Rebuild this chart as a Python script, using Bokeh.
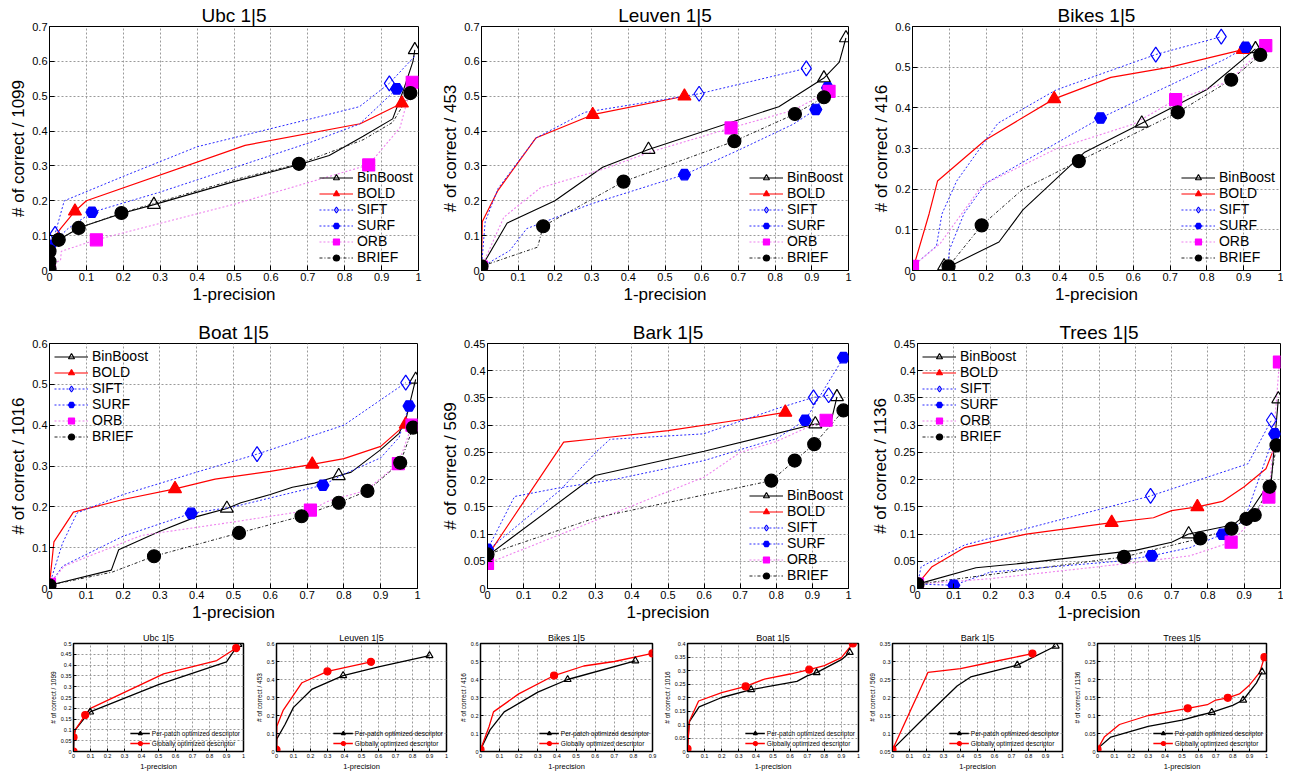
from bokeh.plotting import figure
from bokeh.layouts import row, column
from bokeh.models import Range1d, FixedTicker, CustomJSTickFormatter, Legend, LegendItem
from bokeh.embed import file_html
from bokeh.resources import INLINE

FONT = "Liberation Sans"

SERIES = ["BinBoost", "BOLD", "SIFT", "SURF", "ORB", "BRIEF"]
SMALL_SERIES = ["Per-patch optimized descriptor", "Globally optimized descriptor"]

X_TICKS = [0, 0.1, 0.2, 0.3, 0.4, 0.5, 0.6, 0.7, 0.8, 0.9, 1.0]
X_TICKS_09 = [0, 0.1, 0.2, 0.3, 0.4, 0.5, 0.6, 0.7, 0.8, 0.9]
Y_TICKS_07 = [0, 0.1, 0.2, 0.3, 0.4, 0.5, 0.6, 0.7]
Y_TICKS_06 = [0, 0.1, 0.2, 0.3, 0.4, 0.5, 0.6]
Y_TICKS_045 = [0, 0.05, 0.1, 0.15, 0.2, 0.25, 0.3, 0.35, 0.4, 0.45]
S_Y_UBC = [0, 0.05, 0.1, 0.15, 0.2, 0.25, 0.3, 0.35, 0.4, 0.45, 0.5]
S_Y_LEUVEN = [0, 0.1, 0.2, 0.3, 0.4, 0.5, 0.6]
S_Y_BIKES = [0, 0.1, 0.2, 0.3, 0.4, 0.5, 0.6]
S_Y_BOAT = [0, 0.05, 0.1, 0.15, 0.2, 0.25, 0.3, 0.35, 0.4]
S_Y_BARK = [0.05, 0.1, 0.15, 0.2, 0.25, 0.3, 0.35]
S_Y_TREES = [0, 0.05, 0.1, 0.15, 0.2, 0.25, 0.3]

# ---------------- Ubc ----------------
ubc_binboost_x = [0, 0.003, 0.02, 0.06, 0.1, 0.2, 0.283, 0.5, 0.68, 0.758, 0.85, 0.93, 0.96, 0.985, 0.99]
ubc_binboost_y = [0, 0.06, 0.085, 0.11, 0.13, 0.165, 0.189, 0.255, 0.305, 0.33, 0.385, 0.435, 0.52, 0.6, 0.633]
ubc_binboost_m = [6, 14]
ubc_bold_x = [0, 0.003, 0.03, 0.069, 0.1, 0.53, 0.842, 0.955]
ubc_bold_y = [0, 0.08, 0.12, 0.17, 0.2, 0.359, 0.421, 0.48]
ubc_bold_m = [3, 7]
ubc_sift_x = [0, 0.003, 0.015, 0.04, 0.2, 0.4, 0.7, 0.84, 0.921, 0.99]
ubc_sift_y = [0, 0.09, 0.105, 0.2, 0.27, 0.355, 0.433, 0.47, 0.537, 0.615]
ubc_sift_m = [2, 8]
ubc_surf_x = [0, 0.002, 0.05, 0.115, 0.3, 0.5, 0.7, 0.84, 0.941]
ubc_surf_y = [0, 0.072, 0.12, 0.167, 0.225, 0.295, 0.365, 0.42, 0.521]
ubc_surf_m = [1, 3, 8]
ubc_orb_x = [0, 0.005, 0.03, 0.032, 0.06, 0.127, 0.5, 0.865, 0.95, 0.983]
ubc_orb_y = [0, 0.015, 0.03, 0.055, 0.065, 0.088, 0.19, 0.303, 0.41, 0.54]
ubc_orb_m = [0, 5, 7, 9]
ubc_brief_x = [0, 0, 0, 0.025, 0.079, 0.195, 0.5, 0.676, 0.85, 0.93, 0.978]
ubc_brief_y = [0.005, 0.026, 0.055, 0.088, 0.122, 0.165, 0.26, 0.306, 0.375, 0.425, 0.509]
ubc_brief_m = [0, 1, 2, 3, 4, 5, 7, 10]

# ---------------- Leuven ----------------
leuven_binboost_x = [0, 0.07, 0.2, 0.33, 0.455, 0.81, 0.933, 0.975, 0.993]
leuven_binboost_y = [0.01, 0.136, 0.2, 0.296, 0.347, 0.47, 0.552, 0.598, 0.667]
leuven_binboost_m = [4, 6, 8]
leuven_bold_x = [0, 0.002, 0.045, 0.148, 0.303, 0.553]
leuven_bold_y = [0.01, 0.14, 0.23, 0.38, 0.447, 0.5]
leuven_bold_m = [4, 5]
leuven_sift_x = [0, 0.01, 0.045, 0.148, 0.282, 0.553, 0.593, 0.885]
leuven_sift_y = [0.01, 0.14, 0.235, 0.38, 0.454, 0.5, 0.507, 0.58]
leuven_sift_m = [6, 7]
leuven_surf_x = [0, 0.077, 0.123, 0.296, 0.553, 0.7, 0.85, 0.911, 0.943]
leuven_surf_y = [0.01, 0.057, 0.12, 0.19, 0.275, 0.345, 0.42, 0.462, 0.524]
leuven_surf_m = [4, 7, 8]
leuven_orb_x = [0, 0.061, 0.16, 0.33, 0.46, 0.68, 0.85, 0.947]
leuven_orb_y = [0.01, 0.153, 0.237, 0.29, 0.34, 0.409, 0.46, 0.514]
leuven_orb_m = [0, 5, 7]
leuven_brief_x = [0, 0.153, 0.168, 0.387, 0.689, 0.854, 0.933]
leuven_brief_y = [0.012, 0.067, 0.127, 0.255, 0.371, 0.449, 0.497]
leuven_brief_m = [0, 2, 3, 4, 5, 6]

# ---------------- Bikes ----------------
bikes_binboost_x = [0.086, 0.1, 0.235, 0.3, 0.468, 0.623, 0.8, 0.932]
bikes_binboost_y = [0.011, 0.01, 0.07, 0.149, 0.291, 0.362, 0.445, 0.545]
bikes_binboost_m = [0, 5, 7]
bikes_bold_x = [0, 0.045, 0.068, 0.198, 0.385, 0.539, 0.7, 0.898]
bikes_bold_y = [0, 0.139, 0.22, 0.321, 0.422, 0.475, 0.5, 0.543]
bikes_bold_m = [4, 7]
bikes_sift_x = [0, 0.065, 0.08, 0.12, 0.232, 0.39, 0.661, 0.839]
bikes_sift_y = [0.01, 0.06, 0.139, 0.22, 0.362, 0.444, 0.531, 0.575]
bikes_sift_m = [6, 7]
bikes_surf_x = [0.095, 0.1, 0.14, 0.2, 0.511, 0.85, 0.905]
bikes_surf_y = [0.0, 0.05, 0.14, 0.215, 0.375, 0.52, 0.549]
bikes_surf_m = [4, 6]
bikes_orb_x = [0, 0.075, 0.19, 0.39, 0.6, 0.715, 0.86, 0.96]
bikes_orb_y = [0.01, 0.066, 0.21, 0.299, 0.36, 0.42, 0.465, 0.553]
bikes_orb_m = [0, 5, 7]
bikes_brief_x = [0.098, 0.188, 0.3, 0.452, 0.721, 0.866, 0.945]
bikes_brief_y = [0.01, 0.111, 0.2, 0.269, 0.389, 0.469, 0.53]
bikes_brief_m = [0, 1, 3, 4, 5, 6]

# ---------------- Boat ----------------
boat_binboost_x = [0, 0.168, 0.188, 0.3, 0.4, 0.482, 0.52, 0.6, 0.66, 0.72, 0.786, 0.82, 0.9, 0.95, 0.97, 0.995]
boat_binboost_y = [0.008, 0.045, 0.095, 0.14, 0.176, 0.196, 0.21, 0.23, 0.248, 0.258, 0.276, 0.285, 0.34, 0.38, 0.42, 0.512]
boat_binboost_m = [5, 10, 15]
boat_bold_x = [0, 0.012, 0.065, 0.2, 0.341, 0.45, 0.6, 0.714, 0.8, 0.9, 0.968]
boat_bold_y = [0.01, 0.114, 0.187, 0.218, 0.244, 0.268, 0.287, 0.304, 0.318, 0.348, 0.402]
boat_bold_m = [4, 7, 10]
boat_sift_x = [0, 0.035, 0.075, 0.2, 0.4, 0.564, 0.8, 0.968]
boat_sift_y = [0.01, 0.11, 0.185, 0.23, 0.285, 0.329, 0.4, 0.504]
boat_sift_m = [5, 7]
boat_surf_x = [0, 0.036, 0.2, 0.385, 0.5, 0.743, 0.8, 0.9, 0.95, 0.977]
boat_surf_y = [0.01, 0.055, 0.128, 0.184, 0.2, 0.253, 0.28, 0.32, 0.37, 0.447]
boat_surf_m = [3, 5, 9]
boat_orb_x = [0, 0.04, 0.25, 0.5, 0.709, 0.76, 0.86, 0.948, 0.985]
boat_orb_y = [0.01, 0.055, 0.13, 0.163, 0.192, 0.215, 0.24, 0.306, 0.4]
boat_orb_m = [0, 4, 7, 8]
boat_brief_x = [0, 0.17, 0.284, 0.515, 0.685, 0.786, 0.864, 0.953, 0.988]
boat_brief_y = [0.008, 0.04, 0.079, 0.136, 0.177, 0.21, 0.239, 0.308, 0.394]
boat_brief_m = [0, 2, 3, 4, 5, 6, 7, 8]

# ---------------- Bark ----------------
bark_binboost_x = [0, 0.298, 0.6, 0.908, 0.95, 0.968]
bark_binboost_y = [0.06, 0.2075, 0.252, 0.302, 0.302, 0.352]
bark_binboost_m = [3, 5]
bark_bold_x = [0, 0.211, 0.3, 0.5, 0.7, 0.825]
bark_bold_y = [0.06, 0.269, 0.275, 0.29, 0.31, 0.3235]
bark_bold_m = [5]
bark_sift_x = [0, 0.2, 0.3, 0.339, 0.598, 0.8, 0.903, 0.945]
bark_sift_y = [0.07, 0.18, 0.25, 0.274, 0.284, 0.33, 0.351, 0.355]
bark_sift_m = [6, 7]
bark_surf_x = [0, 0.075, 0.2, 0.35, 0.6, 0.8, 0.88, 0.986]
bark_surf_y = [0.072, 0.169, 0.185, 0.2, 0.235, 0.275, 0.309, 0.424]
bark_surf_m = [0, 6, 7]
bark_orb_x = [0, 0.6, 0.7, 0.8, 0.9, 0.938]
bark_orb_y = [0.046, 0.2045, 0.25, 0.27, 0.3, 0.309]
bark_orb_m = [0, 5]
bark_brief_x = [0, 0.3, 0.786, 0.851, 0.905, 0.986]
bark_brief_y = [0.0626, 0.13, 0.198, 0.235, 0.265, 0.327]
bark_brief_m = [0, 2, 3, 4, 5]

# ---------------- Trees ----------------
trees_binboost_x = [0, 0.161, 0.3, 0.6, 0.7, 0.747, 0.87, 0.92, 0.975, 0.994]
trees_binboost_y = [0.008, 0.038, 0.047, 0.07, 0.085, 0.1, 0.117, 0.145, 0.2, 0.348]
trees_binboost_m = [5, 9]
trees_bold_x = [0, 0.04, 0.129, 0.3, 0.535, 0.65, 0.7, 0.771, 0.84, 0.9, 0.96, 0.985]
trees_bold_y = [0.008, 0.04, 0.075, 0.1, 0.121, 0.13, 0.143, 0.15, 0.16, 0.187, 0.22, 0.262]
trees_bold_m = [4, 7]
trees_sift_x = [0, 0.01, 0.13, 0.3, 0.642, 0.91, 0.975]
trees_sift_y = [0.008, 0.04, 0.08, 0.11, 0.17, 0.229, 0.309]
trees_sift_m = [4, 6]
trees_surf_x = [0, 0.1, 0.2, 0.55, 0.645, 0.75, 0.84, 0.9, 0.984]
trees_surf_y = [0.008, 0.006, 0.03, 0.05, 0.06, 0.075, 0.0995, 0.125, 0.284]
trees_surf_m = [1, 4, 6, 8]
trees_orb_x = [0, 0.2, 0.5, 0.75, 0.864, 0.9, 0.968, 0.997]
trees_orb_y = [0.008, 0.018, 0.04, 0.06, 0.085, 0.11, 0.168, 0.416]
trees_orb_m = [0, 4, 6, 7]
trees_brief_x = [0, 0.569, 0.779, 0.865, 0.906, 0.929, 0.97, 0.989]
trees_brief_y = [0.008, 0.058, 0.092, 0.11, 0.128, 0.135, 0.187, 0.263]
trees_brief_m = [0, 1, 2, 3, 4, 5, 6, 7]

# ---------------- small panels ----------------
s_ubc_pp_x = [0, 0.002, 0.01, 0.06, 0.098, 0.5, 0.9, 0.97]
s_ubc_pp_y = [0, 0.06, 0.1, 0.15, 0.183, 0.31, 0.415, 0.496]
s_ubc_pp_m = [4, 7]
s_ubc_gl_x = [0, 0, 0.01, 0.069, 0.1, 0.53, 0.843, 0.957]
s_ubc_gl_y = [0, 0.066, 0.1, 0.169, 0.2, 0.359, 0.421, 0.479]
s_ubc_gl_m = [0, 1, 3, 7]

s_leuven_pp_x = [0, 0.002, 0.05, 0.1, 0.21, 0.392, 0.6, 0.9]
s_leuven_pp_y = [0.01, 0.07, 0.15, 0.245, 0.347, 0.422, 0.47, 0.533]
s_leuven_pp_m = [5, 7]
s_leuven_gl_x = [0, 0.002, 0.04, 0.15, 0.3, 0.556]
s_leuven_gl_y = [0.01, 0.14, 0.23, 0.382, 0.445, 0.498]
s_leuven_gl_m = [0, 4, 5]

s_bikes_pp_x = [0, 0.05, 0.124, 0.3, 0.456, 0.81]
s_bikes_pp_y = [0.01, 0.12, 0.22, 0.33, 0.4, 0.504]
s_bikes_pp_m = [4, 5]
s_bikes_gl_x = [0, 0.045, 0.068, 0.2, 0.385, 0.54, 0.7, 0.9]
s_bikes_gl_y = [0.01, 0.139, 0.22, 0.32, 0.422, 0.475, 0.5, 0.545]
s_bikes_gl_m = [0, 4, 7]

s_boat_pp_x = [0, 0.01, 0.068, 0.2, 0.372, 0.64, 0.7, 0.755, 0.9, 0.949]
s_boat_pp_y = [0.01, 0.11, 0.165, 0.2, 0.229, 0.26, 0.28, 0.292, 0.34, 0.367]
s_boat_pp_m = [4, 7, 9]
s_boat_gl_x = [0, 0.012, 0.065, 0.2, 0.34, 0.45, 0.6, 0.712, 0.8, 0.9, 0.967]
s_boat_gl_y = [0.01, 0.114, 0.187, 0.218, 0.241, 0.268, 0.287, 0.303, 0.318, 0.348, 0.4]
s_boat_gl_m = [0, 4, 7, 10]

s_bark_pp_x = [0, 0.2, 0.38, 0.46, 0.734, 0.96]
s_bark_pp_y = [0.056, 0.15, 0.232, 0.257, 0.29, 0.343]
s_bark_pp_m = [4, 5]
s_bark_gl_x = [0, 0.209, 0.4, 0.6, 0.823]
s_bark_gl_y = [0.055, 0.27, 0.28, 0.3, 0.322]
s_bark_gl_m = [0, 4]

s_trees_pp_x = [0, 0.079, 0.3, 0.5, 0.6, 0.676, 0.8, 0.862, 0.94, 0.974]
s_trees_pp_y = [0.008, 0.04, 0.07, 0.087, 0.1, 0.109, 0.128, 0.143, 0.19, 0.221]
s_trees_pp_m = [5, 7, 9]
s_trees_gl_x = [0, 0.04, 0.13, 0.3, 0.534, 0.65, 0.7, 0.771, 0.84, 0.9, 0.96, 0.988]
s_trees_gl_y = [0.006, 0.04, 0.075, 0.1, 0.12, 0.13, 0.143, 0.149, 0.16, 0.185, 0.22, 0.262]
s_trees_gl_m = [0, 4, 7, 11]

STYLE = {
    "BinBoost": dict(lc="black", lw=1.1, dash="solid", marker="triangle", size=13, fc="white", fa=0.0, mc="black"),
    "BOLD": dict(lc="#ff0000", lw=1.2, dash="solid", marker="triangle", size=13, fc="#ff0000", fa=1.0, mc="#ff0000"),
    "SIFT": dict(lc="#2a2aff", lw=1.0, dash="2 2", marker="diamond", size=15, fc="white", fa=0.0, mc="#0000ff"),
    "SURF": dict(lc="#2a2aff", lw=1.0, dash="2 2", marker="hex", size=12, fc="#0000ff", fa=1.0, mc="#0000ff"),
    "ORB": dict(lc="#ee82ee", lw=1.1, dash="2 2", marker="square", size=12, fc="#ff00ff", fa=1.0, mc="#ff00ff"),
    "BRIEF": dict(lc="#222222", lw=1.0, dash="3 2 1 2", marker="circle", size=13, fc="black", fa=1.0, mc="black"),
}
SMALL_STYLE = {
    "Per-patch optimized descriptor": dict(lc="black", lw=1.3, dash="solid", marker="triangle", size=7, fc="white", fa=0.0, mc="black"),
    "Globally optimized descriptor": dict(lc="#ff0000", lw=1.3, dash="solid", marker="circle", size=7, fc="#ff0000", fa=1.0, mc="#ff0000"),
}

BIG = [
    dict(title="Ubc 1|5", ylabel="# of correct / 1099", yticks=Y_TICKS_07, loc="bottom_right",
         data=[(ubc_binboost_x, ubc_binboost_y, ubc_binboost_m), (ubc_bold_x, ubc_bold_y, ubc_bold_m),
               (ubc_sift_x, ubc_sift_y, ubc_sift_m), (ubc_surf_x, ubc_surf_y, ubc_surf_m),
               (ubc_orb_x, ubc_orb_y, ubc_orb_m), (ubc_brief_x, ubc_brief_y, ubc_brief_m)]),
    dict(title="Leuven 1|5", ylabel="# of correct / 453", yticks=Y_TICKS_07, loc="bottom_right",
         data=[(leuven_binboost_x, leuven_binboost_y, leuven_binboost_m), (leuven_bold_x, leuven_bold_y, leuven_bold_m),
               (leuven_sift_x, leuven_sift_y, leuven_sift_m), (leuven_surf_x, leuven_surf_y, leuven_surf_m),
               (leuven_orb_x, leuven_orb_y, leuven_orb_m), (leuven_brief_x, leuven_brief_y, leuven_brief_m)]),
    dict(title="Bikes 1|5", ylabel="# of correct / 416", yticks=Y_TICKS_06, loc="bottom_right",
         data=[(bikes_binboost_x, bikes_binboost_y, bikes_binboost_m), (bikes_bold_x, bikes_bold_y, bikes_bold_m),
               (bikes_sift_x, bikes_sift_y, bikes_sift_m), (bikes_surf_x, bikes_surf_y, bikes_surf_m),
               (bikes_orb_x, bikes_orb_y, bikes_orb_m), (bikes_brief_x, bikes_brief_y, bikes_brief_m)]),
    dict(title="Boat 1|5", ylabel="# of correct / 1016", yticks=Y_TICKS_06, loc="top_left",
         data=[(boat_binboost_x, boat_binboost_y, boat_binboost_m), (boat_bold_x, boat_bold_y, boat_bold_m),
               (boat_sift_x, boat_sift_y, boat_sift_m), (boat_surf_x, boat_surf_y, boat_surf_m),
               (boat_orb_x, boat_orb_y, boat_orb_m), (boat_brief_x, boat_brief_y, boat_brief_m)]),
    dict(title="Bark 1|5", ylabel="# of correct / 569", yticks=Y_TICKS_045, loc="bottom_right",
         data=[(bark_binboost_x, bark_binboost_y, bark_binboost_m), (bark_bold_x, bark_bold_y, bark_bold_m),
               (bark_sift_x, bark_sift_y, bark_sift_m), (bark_surf_x, bark_surf_y, bark_surf_m),
               (bark_orb_x, bark_orb_y, bark_orb_m), (bark_brief_x, bark_brief_y, bark_brief_m)]),
    dict(title="Trees 1|5", ylabel="# of correct / 1136", yticks=Y_TICKS_045, loc="top_left",
         data=[(trees_binboost_x, trees_binboost_y, trees_binboost_m), (trees_bold_x, trees_bold_y, trees_bold_m),
               (trees_sift_x, trees_sift_y, trees_sift_m), (trees_surf_x, trees_surf_y, trees_surf_m),
               (trees_orb_x, trees_orb_y, trees_orb_m), (trees_brief_x, trees_brief_y, trees_brief_m)]),
]

SMALL = [
    dict(title="Ubc 1|5", ylabel="# of correct / 1099", xticks=X_TICKS, yticks=S_Y_UBC,
         data=[(s_ubc_pp_x, s_ubc_pp_y, s_ubc_pp_m), (s_ubc_gl_x, s_ubc_gl_y, s_ubc_gl_m)]),
    dict(title="Leuven 1|5", ylabel="# of correct / 453", xticks=X_TICKS, yticks=S_Y_LEUVEN,
         data=[(s_leuven_pp_x, s_leuven_pp_y, s_leuven_pp_m), (s_leuven_gl_x, s_leuven_gl_y, s_leuven_gl_m)]),
    dict(title="Bikes 1|5", ylabel="# of correct / 416", xticks=X_TICKS_09, yticks=S_Y_BIKES,
         data=[(s_bikes_pp_x, s_bikes_pp_y, s_bikes_pp_m), (s_bikes_gl_x, s_bikes_gl_y, s_bikes_gl_m)]),
    dict(title="Boat 1|5", ylabel="# of correct / 1016", xticks=X_TICKS, yticks=S_Y_BOAT,
         data=[(s_boat_pp_x, s_boat_pp_y, s_boat_pp_m), (s_boat_gl_x, s_boat_gl_y, s_boat_gl_m)]),
    dict(title="Bark 1|5", ylabel="# of correct / 569", xticks=X_TICKS, yticks=S_Y_BARK,
         data=[(s_bark_pp_x, s_bark_pp_y, s_bark_pp_m), (s_bark_gl_x, s_bark_gl_y, s_bark_gl_m)]),
    dict(title="Trees 1|5", ylabel="# of correct / 1136", xticks=X_TICKS, yticks=S_Y_TREES,
         data=[(s_trees_pp_x, s_trees_pp_y, s_trees_pp_m), (s_trees_gl_x, s_trees_gl_y, s_trees_gl_m)]),
]

# layout geometry: (width, left border, right border)
ROW1_GEOM = [(438, 49, 20), (430, 42, 20), (415, 44, 3)]
ROW2_GEOM = [(438, 49, 21), (430, 47, 20), (415, 49, 3)]
ROW3_GEOM = [(250, 73, 7), (202, 26, 6), (207, 28, 7), (205, 28, 6), (205, 28, 7), (207, 28, 10)]
ROW_H = [(306, 26, 36), (318, 37, 36), (149, 19, 19)]

BIG_FS = dict(title="19px", label="17px", tick="11px", legend="14px", tick_in=5, outline=1.0)
SMALL_FS = dict(title="9px", label="7.5px", ylabel="6.5px", tick="5.5px", legend="6.5px", tick_in=3, outline=1.5)


def tick_fmt():
    return CustomJSTickFormatter(code=r"return tick.toFixed(2).replace(/\.?0+$/, '');")


def make_fig(title, ylabel, xticks, yticks, geom, hgeom, fs, ylab_fs):
    w, bl, br = geom
    h, bt, bb = hgeom
    p = figure(width=w, height=h, x_range=Range1d(xticks[0], xticks[-1]),
               y_range=Range1d(yticks[0], yticks[-1]), output_backend="svg",
               toolbar_location=None, min_border_left=bl, min_border_right=br,
               min_border_top=bt, min_border_bottom=bb)
    p.title.text = title
    p.title.align = "center"
    p.title.text_font = FONT
    p.title.text_font_size = fs["title"]
    p.title.text_font_style = "normal"
    p.title.text_color = "black"
    p.title.standoff = 1
    p.xaxis.axis_label = "1-precision"
    p.yaxis.axis_label = ylabel
    p.xaxis.ticker = FixedTicker(ticks=xticks)
    p.yaxis.ticker = FixedTicker(ticks=yticks)
    for ax in (p.xaxis[0], p.yaxis[0]):
        ax.formatter = tick_fmt()
        ax.major_tick_in = fs["tick_in"]
        ax.major_tick_out = 0
        ax.minor_tick_line_color = None
        ax.major_tick_line_color = "black"
        ax.axis_line_color = "black"
        ax.major_label_text_font = FONT
        ax.major_label_text_font_size = fs["tick"]
        ax.major_label_text_color = "black"
        ax.major_label_standoff = 2
        ax.axis_label_text_font = FONT
        ax.axis_label_text_font_style = "normal"
        ax.axis_label_text_color = "black"
        ax.axis_label_standoff = 1
    p.xaxis.axis_label_text_font_size = fs["label"]
    p.yaxis.axis_label_text_font_size = ylab_fs
    p.grid.grid_line_color = "#9a9a9a"
    p.grid.grid_line_dash = "2 2"
    p.grid.grid_line_width = 1
    p.outline_line_color = "black"
    p.outline_line_width = fs["outline"]
    p.outline_line_alpha = 1.0
    p.background_fill_color = "white"
    return p


def add_series(p, names, styles, data):
    lines = []
    for name, (x, y, m) in zip(names, data):
        st = styles[name]
        lines.append(p.line(x, y, line_color=st["lc"], line_width=st["lw"], line_dash=st["dash"]))
    marks = []
    for name, (x, y, m) in zip(names, data):
        st = styles[name]
        mx = [x[i] for i in m]
        my = [y[i] for i in m]
        marks.append(p.scatter(mx, my, marker=st["marker"], size=st["size"], fill_color=st["fc"],
                               fill_alpha=st["fa"], line_color=st["mc"], line_width=1.2))
    return [LegendItem(label=n, renderers=[l, s]) for n, l, s in zip(names, lines, marks)]


big_figs = []
for i, spec in enumerate(BIG):
    geom = (ROW1_GEOM + ROW2_GEOM)[i]
    hgeom = ROW_H[0] if i < 3 else ROW_H[1]
    p = make_fig(spec["title"], spec["ylabel"], X_TICKS, spec["yticks"], geom, hgeom, BIG_FS, BIG_FS["label"])
    items = add_series(p, SERIES, STYLE, spec["data"])
    lg = Legend(items=items, location=spec["loc"], label_text_font=FONT,
                label_text_font_size=BIG_FS["legend"], label_text_color="black",
                glyph_width=34, glyph_height=15, label_height=14, spacing=0,
                padding=0, margin=5, label_standoff=4,
                background_fill_alpha=0, border_line_alpha=0)
    p.add_layout(lg)
    big_figs.append(p)

small_figs = []
for i, spec in enumerate(SMALL):
    p = make_fig(spec["title"], spec["ylabel"], spec["xticks"], spec["yticks"], ROW3_GEOM[i], ROW_H[2],
                 SMALL_FS, SMALL_FS["ylabel"])
    items = add_series(p, SMALL_SERIES, SMALL_STYLE, spec["data"])
    lg = Legend(items=items, location="bottom_right", label_text_font=FONT,
                label_text_font_size=SMALL_FS["legend"], label_text_color="black",
                glyph_width=20, glyph_height=10, label_height=8, spacing=0,
                padding=0, margin=3, label_standoff=2,
                background_fill_alpha=0, border_line_alpha=0)
    p.add_layout(lg)
    small_figs.append(p)

layout = column(row(*big_figs[:3], spacing=0), row(*big_figs[3:], spacing=0),
                row(*small_figs, spacing=0), spacing=0)

open("out.html", "w").write(file_html(layout, INLINE))
